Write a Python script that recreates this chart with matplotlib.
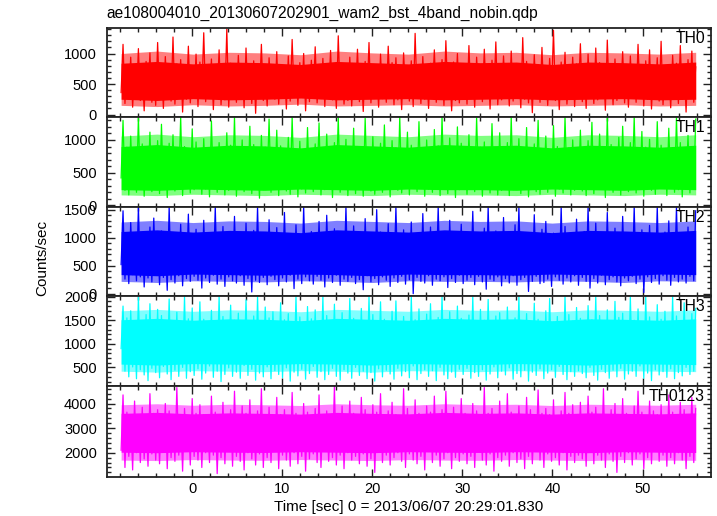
import numpy as np
import matplotlib
matplotlib.use("Agg")
import matplotlib.pyplot as plt
from matplotlib.ticker import MultipleLocator

plt.rcParams['font.family'] = ['Liberation Sans', 'DejaVu Sans']

title = "ae108004010_20130607202901_wam2_bst_4band_nobin.qdp"
xlabel = "Time [sec] 0 = 2013/06/07 20:29:01.830"
ylabel = "Counts/sec"
band_names = ["TH0", "TH1", "TH2", "TH3", "TH0123"]
band_colors = ["#ff0000", "#00ff00", "#0000ff", "#00ffff", "#ff00ff"]
time_start, time_end = -7.9, 55.9

# sampled light-curve values (counts/sec)
th0 = [
    360, 1150, 180, 820, 310, 940, 120, 760, 280, 1080, 230, 690, 60, 870, 340, 1010, 200, 740, 150, 1180,
    290, 800, 100, 950, 380, 710, 220, 1270, 170, 830, 320, 900, 40, 760, 250, 1120, 190, 680, 300, 990,
    130, 860, 360, 1340, 210, 720, 270, 910, 80, 800, 330, 1060, 160, 750, 240, 1400, 120, 840, 290, 700,
    200, 970, 350, 780, 110, 1090, 260, 730, 180, 880, 20, 820, 310, 1150, 230, 690, 140, 930, 370, 760,
    250, 1030, 170, 810, 300, 720, 90, 960, 220, 1230, 340, 770, 150, 850, 280, 1000, 60, 740, 210, 890,
    320, 1110, 190, 700, 260, 920, 130, 830, 360, 1050, 240, 760, 100, 1290, 300, 820, 170, 680, 230, 940,
    140, 790, 330, 1070, 210, 730, 50, 870, 280, 1180, 190, 810, 350, 740, 120, 990, 260, 700, 200, 1120,
    310, 850, 160, 930, 240, 770, 80, 1010, 370, 720, 220, 880, 130, 1330, 290, 790, 180, 950, 250, 710,
    100, 840, 340, 1060, 200, 750, 270, 900, 150, 1210, 320, 780, 60, 860, 230, 1000, 190, 730, 300, 820,
    170, 1130, 260, 690, 120, 940, 350, 800, 210, 1070, 280, 760, 90, 890, 330, 1190, 160, 720, 240, 960,
    300, 780, 140, 1040, 220, 830, 370, 710, 110, 1260, 250, 870, 190, 750, 30, 980, 320, 810, 200, 1100,
    270, 740, 150, 920, 340, 1380, 230, 790, 80, 860, 290, 1020, 170, 700, 260, 940, 130, 830, 350, 1160,
    210, 770, 100, 990, 300, 720, 180, 1090, 240, 850, 330, 760, 70, 1220, 280, 800, 160, 910, 230, 740,
    360, 1030, 190, 820, 120, 960, 270, 730, 200, 1150, 310, 790, 140, 880, 250, 1060, 90, 750, 330, 930,
    220, 1200, 160, 800, 290, 720, 110, 970, 350, 840, 180, 1130, 260, 760, 40, 900, 300, 1040, 200, 780,
]
th1 = [
    420, 1300, 230, 890, 160, 1060, 310, 820, 200, 1350, 270, 940, 140, 780, 330, 1120, 210, 870, 250, 990,
    180, 1240, 300, 810, 120, 950, 260, 1080, 220, 760, 340, 1350, 150, 900, 280, 830, 190, 1170, 240, 970,
    310, 790, 170, 1020, 250, 880, 130, 1290, 290, 840, 200, 960, 350, 770, 160, 1110, 230, 920, 270, 1350,
    140, 860, 320, 1000, 210, 800, 260, 1210, 180, 930, 300, 780, 110, 1070, 240, 890, 330, 1320, 200, 840,
    270, 1150, 150, 910, 290, 760, 220, 1040, 170, 1350, 310, 850, 130, 980, 250, 800, 190, 1190, 280, 870,
    210, 940, 340, 1260, 160, 820, 240, 1090, 300, 780, 120, 960, 260, 1350, 200, 870, 320, 1010, 150, 830,
    290, 1180, 180, 900, 250, 770, 140, 1330, 310, 860, 220, 1050, 170, 790, 330, 950, 200, 1230, 260, 810,
    130, 990, 280, 880, 230, 1350, 190, 760, 340, 1120, 160, 920, 270, 830, 210, 1280, 300, 870, 140, 1000,
    250, 800, 200, 1160, 320, 910, 150, 1350, 260, 780, 180, 1030, 290, 860, 120, 1200, 240, 950, 310, 820,
    170, 1080, 270, 790, 210, 1340, 330, 890, 140, 970, 250, 840, 190, 1250, 300, 770, 160, 1110, 230, 900,
    280, 960, 150, 1350, 240, 810, 320, 1020, 180, 870, 260, 1190, 130, 780, 290, 940, 210, 1300, 170, 850,
    310, 1060, 200, 830, 270, 1220, 140, 900, 250, 790, 190, 1350, 330, 880, 160, 1000, 230, 820, 280, 1150,
    220, 870, 150, 990, 300, 1270, 180, 810, 260, 1090, 340, 860, 120, 1350, 240, 930, 200, 780, 290, 1040,
    160, 1210, 270, 850, 210, 960, 320, 1350, 190, 800, 250, 1130, 140, 890, 300, 1010, 230, 840, 170, 1280,
    260, 920, 330, 790, 150, 1180, 280, 870, 200, 1350, 240, 960, 130, 830, 310, 1070, 190, 900, 270, 1320,
]
th2 = [
    520, 1480, 260, 1090, 180, 1270, 340, 960, 230, 1550, 300, 1030, 120, 900, 280, 1190, 210, 1350, 330, 980,
    160, 1120, 290, 920, 60, 1550, 250, 1060, 190, 880, 320, 1240, 140, 1000, 270, 1420, 220, 940, 310, 1150,
    240, 990, 100, 1310, 280, 870, 200, 1080, 330, 1550, 170, 950, 260, 1200, 130, 910, 300, 1040, 230, 1380,
    190, 1010, 320, 890, 150, 1260, 270, 970, 30, 1130, 240, 1550, 200, 930, 290, 1070, 160, 1320, 310, 900,
    250, 1180, 140, 960, 280, 1450, 210, 880, 330, 1050, 90, 1230, 260, 940, 180, 1550, 300, 1000, 230, 1110,
    170, 920, 310, 1290, 240, 1020, 120, 1400, 280, 870, 200, 1160, 330, 960, 150, 1080, 260, 1550, 220, 930,
    290, 1210, 180, 990, 250, 880, 70, 1340, 320, 1040, 210, 920, 270, 1500, 160, 1100, 300, 950, 240, 1250,
    130, 1030, 280, 1550, 200, 910, 310, 1140, 170, 980, 250, 1280, 0, 890, 290, 1060, 220, 1430, 190, 940,
    320, 1190, 150, 970, 260, 1550, 230, 890, 300, 1090, 110, 1310, 270, 930, 200, 1020, 330, 1240, 180, 960,
    240, 880, 290, 1470, 160, 1050, 310, 940, 210, 1170, 80, 1550, 260, 900, 230, 1120, 300, 990, 140, 1360,
    270, 1000, 190, 920, 320, 1230, 150, 1550, 250, 960, 290, 1070, 40, 890, 220, 1410, 310, 1010, 180, 1150,
    200, 1290, 260, 910, 130, 1080, 300, 970, 240, 1550, 170, 1200, 280, 880, 210, 1040, 320, 1330, 150, 950,
    290, 1110, 220, 1550, 100, 930, 270, 1260, 190, 990, 330, 1060, 160, 1450, 250, 900, 300, 1170, 210, 970,
    140, 1380, 280, 920, 230, 1050, 310, 1550, 180, 960, 260, 1140, 20, 890, 300, 1220, 200, 1010, 270, 1550,
    170, 930, 320, 1100, 240, 1300, 150, 980, 290, 1550, 210, 1060, 260, 910, 190, 1190, 310, 1020, 230, 1480,
]
th3 = [
    900, 1800, 420, 1550, 300, 1700, 510, 1380, 260, 2000, 450, 1490, 340, 1620, 220, 1850, 480, 1410, 390, 1730,
    280, 1600, 520, 1350, 360, 1950, 240, 1480, 440, 1670, 310, 1390, 500, 2000, 270, 1530, 410, 1760, 330, 1440,
    470, 1890, 250, 1520, 380, 1360, 530, 1710, 290, 1450, 420, 2000, 200, 1580, 350, 1400, 490, 1820, 310, 1500,
    400, 1650, 270, 1370, 540, 1930, 330, 1470, 460, 1590, 230, 2000, 380, 1420, 300, 1780, 510, 1550, 260, 1680,
    430, 1400, 350, 1870, 280, 1510, 490, 1640, 210, 1380, 400, 2000, 320, 1570, 460, 1460, 250, 1790, 370, 1530,
    520, 1720, 290, 1430, 410, 2000, 240, 1600, 350, 1390, 480, 1840, 310, 1500, 230, 1660, 450, 1410, 380, 1960,
    270, 1540, 500, 1370, 330, 1750, 420, 1480, 260, 2000, 390, 1620, 210, 1440, 470, 1890, 300, 1520, 440, 1380,
    360, 1690, 250, 1910, 480, 1460, 320, 1580, 410, 1360, 280, 2000, 530, 1510, 240, 1740, 370, 1430, 450, 1630,
    310, 1850, 430, 1400, 220, 1560, 500, 2000, 340, 1470, 260, 1680, 400, 1390, 290, 1800, 460, 1540, 350, 1450,
    480, 1610, 270, 2000, 390, 1420, 310, 1730, 450, 1500, 230, 1940, 360, 1380, 510, 1590, 280, 1660, 420, 1470,
    340, 1780, 490, 1410, 250, 1550, 370, 2000, 300, 1490, 440, 1640, 210, 1370, 400, 1860, 330, 1520, 470, 1430,
    260, 1700, 380, 1960, 450, 1460, 290, 1580, 520, 1390, 350, 2000, 240, 1620, 410, 1480, 310, 1770, 430, 1540,
    370, 1420, 280, 1810, 500, 1510, 330, 2000, 230, 1600, 460, 1380, 390, 1720, 270, 1450, 440, 1900, 300, 1560,
    480, 1650, 250, 1430, 360, 1990, 420, 1500, 310, 1740, 530, 1400, 270, 2000, 380, 1570, 220, 1460, 450, 1830,
    340, 1520, 410, 1690, 290, 1410, 470, 2000, 260, 1590, 390, 1470, 320, 1870, 500, 1430, 350, 1640, 420, 1750,
]
th0123 = [
    2100, 4350, 1400, 3650, 1850, 3400, 1300, 4100, 2000, 3550, 1600, 3850, 1750, 3300, 1450, 4400, 1950, 3600, 1700, 3750,
    1550, 3450, 2050, 4000, 1350, 3700, 1800, 3350, 1650, 4650, 1900, 3500, 1250, 3800, 2100, 3400, 1500, 4200, 1850, 3600,
    1700, 3950, 1400, 3550, 2000, 3300, 1600, 4300, 1900, 3650, 1150, 3450, 1800, 4050, 1550, 3500, 2050, 3750, 1450, 4500,
    1850, 3400, 1650, 3900, 1300, 3600, 2000, 4150, 1750, 3350, 1500, 3700, 1950, 4600, 1400, 3500, 1800, 3850, 1600, 3450,
    2100, 4250, 1350, 3550, 1900, 3750, 1700, 3400, 1450, 4450, 2000, 3600, 1550, 3300, 1850, 4000, 1250, 3650, 1750, 3500,
    1950, 3800, 1600, 4350, 1400, 3450, 2050, 3700, 1650, 3350, 1800, 4700, 1500, 3550, 1900, 3900, 1350, 3500, 2000, 4100,
    1700, 3600, 1850, 3400, 1550, 4250, 1950, 3750, 1450, 3500, 1750, 3950, 1200, 3650, 2050, 4400, 1600, 3450, 1900, 3700,
    1500, 4050, 1800, 3550, 2000, 3350, 1650, 4600, 1400, 3800, 1950, 3500, 1700, 4150, 1550, 3600, 1850, 3400, 1300, 3900,
    2050, 3650, 1600, 4300, 1900, 3450, 1450, 3750, 1750, 4500, 2000, 3550, 1350, 3850, 1800, 3400, 1650, 4200, 1950, 3600,
    1550, 3500, 1850, 4000, 1400, 3700, 2100, 3350, 1700, 4650, 1500, 3600, 1950, 3800, 1250, 3450, 1800, 4100, 1650, 3550,
    1900, 4400, 1450, 3650, 2000, 3400, 1600, 3900, 1750, 3500, 1350, 4250, 1850, 3750, 1550, 3450, 2050, 4550, 1700, 3600,
    1400, 3800, 1950, 3550, 1650, 4150, 1800, 3350, 1500, 3700, 2000, 4450, 1300, 3600, 1850, 3950, 1600, 3500, 1900, 4050,
    1750, 3450, 1450, 4300, 2050, 3650, 1550, 3850, 1900, 3400, 1700, 4600, 1400, 3550, 1950, 3750, 1650, 4000, 1200, 3500,
    1850, 4200, 1600, 3600, 2000, 3350, 1500, 3900, 1750, 4500, 1950, 3650, 1350, 3450, 1800, 4100, 1550, 3700, 2050, 3550,
    1650, 3950, 1900, 3500, 1450, 4350, 1800, 3650, 1550, 3400, 2000, 4050, 1700, 3750, 1350, 3550, 1850, 4250, 1600, 3800,
]
series = [th0, th1, th2, th3, th0123]

# dense (solid-looking) core of each light curve, read every ~4 s
core_lo = [
    [250, 230, 260, 240, 250, 270, 240, 250, 260, 240, 250, 260, 240, 250, 260, 240, 250],
    [240, 230, 250, 240, 230, 250, 240, 230, 250, 240, 240, 230, 250, 240, 230, 250, 240],
    [340, 320, 350, 340, 330, 350, 340, 320, 350, 340, 340, 330, 350, 340, 320, 350, 340],
    [570, 550, 580, 570, 560, 580, 570, 550, 580, 570, 560, 580, 570, 550, 580, 570, 560],
    [2020, 2000, 2040, 2020, 2010, 2040, 2020, 2000, 2040, 2020, 2010, 2040, 2020, 2000, 2040, 2020, 2010],
]
core_hi = [
    [840, 870, 830, 860, 850, 820, 870, 850, 830, 870, 850, 860, 820, 860, 850, 830, 860],
    [900, 930, 890, 920, 910, 880, 930, 910, 890, 930, 910, 920, 880, 920, 910, 890, 920],
    [1110, 1140, 1100, 1130, 1120, 1090, 1140, 1120, 1100, 1140, 1120, 1130, 1090, 1130, 1120, 1100, 1130],
    [1510, 1540, 1500, 1530, 1520, 1490, 1540, 1520, 1500, 1540, 1520, 1530, 1490, 1530, 1520, 1500, 1530],
    [3600, 3640, 3580, 3620, 3600, 3570, 3640, 3600, 3580, 3640, 3600, 3620, 3570, 3620, 3600, 3580, 3620],
]
# looser fringe of frequent excursions around the core
fringe_lo = [
    [150, 130, 160, 140, 150, 170, 140, 150, 160, 140, 150, 160, 140, 150, 160, 140, 150],
    [160, 150, 170, 160, 150, 170, 160, 150, 170, 160, 160, 150, 170, 160, 150, 170, 160],
    [220, 200, 230, 220, 210, 230, 220, 200, 230, 220, 220, 210, 230, 220, 200, 230, 220],
    [420, 400, 430, 420, 410, 430, 420, 400, 430, 420, 410, 430, 420, 400, 430, 420, 410],
    [1700, 1680, 1720, 1700, 1690, 1720, 1700, 1680, 1720, 1700, 1690, 1720, 1700, 1680, 1720, 1700, 1690],
]
fringe_hi = [
    [1000, 1040, 990, 1020, 1010, 980, 1040, 1010, 990, 1040, 1010, 1020, 980, 1020, 1010, 990, 1020],
    [1060, 1090, 1050, 1080, 1070, 1040, 1090, 1070, 1050, 1090, 1070, 1080, 1040, 1080, 1070, 1050, 1080],
    [1280, 1310, 1270, 1300, 1290, 1260, 1310, 1290, 1270, 1310, 1290, 1300, 1260, 1300, 1290, 1270, 1300],
    [1700, 1730, 1690, 1720, 1710, 1680, 1730, 1710, 1690, 1730, 1710, 1720, 1680, 1720, 1710, 1690, 1720],
    [3950, 3990, 3930, 3970, 3950, 3920, 3990, 3950, 3930, 3990, 3950, 3970, 3920, 3970, 3950, 3930, 3970],
]

y_limits = [(-36, 1423), (-20, 1356), (-36, 1553), (106, 2020), (1025, 4712)]
y_major = [500, 500, 500, 500, 1000]
y_minor = [100, 100, 100, 100, 200]
x_limits = (-9.5, 57.6)

W, H = 717, 516
fig = plt.figure(figsize=(W / 100, H / 100), dpi=100)
left_px, right_px = 106.7, 711.0
edges_px = [27.7, 116.7, 206.7, 295.7, 386.0, 476.7]
frame_col = "#222222"

axes = []
for i in range(5):
    top, bot = edges_px[i], edges_px[i + 1]
    ax = fig.add_axes([left_px / W, 1 - bot / H, (right_px - left_px) / W, (bot - top) / H])
    y = np.asarray(series[i], dtype=float)
    t = np.linspace(time_start, time_end, len(y))
    tc = np.linspace(time_start, time_end, len(core_lo[i]))
    ax.fill_between(tc, fringe_lo[i], fringe_hi[i], color=band_colors[i], alpha=0.5, lw=0)
    ax.fill_between(tc, core_lo[i], core_hi[i], color=band_colors[i], lw=0)
    ax.plot(t, y, color=band_colors[i], lw=0.9)
    ax.set_xlim(*x_limits)
    ax.set_ylim(*y_limits[i])
    ax.xaxis.set_major_locator(MultipleLocator(10))
    ax.xaxis.set_minor_locator(MultipleLocator(2))
    ax.yaxis.set_major_locator(MultipleLocator(y_major[i]))
    ax.yaxis.set_minor_locator(MultipleLocator(y_minor[i]))
    ax.tick_params(which='both', direction='in', top=True, right=True, color=frame_col,
                   width=1.0, labelsize=10.5, pad=7)
    ax.tick_params(which='major', length=5.5)
    ax.tick_params(which='minor', length=3)
    for s in ax.spines.values():
        s.set_color(frame_col)
        s.set_linewidth(1.3)
        s.set_zorder(5)
    if i < 4:
        ax.tick_params(labelbottom=False)
    ax.text(0.99, 0.965, band_names[i], transform=ax.transAxes, ha='right', va='top',
            fontsize=11.3, zorder=6)
    axes.append(ax)

axes[-1].tick_params(axis='x', pad=4)
fig.text(left_px / W, 1 - 13 / H, title, ha='left', va='center', fontsize=11.2)
fig.text((left_px + right_px) / 2 / W, 1 - 507 / H, xlabel, ha='center', va='center', fontsize=11)
fig.text(42 / W, 1 - 258 / H, ylabel, ha='center', va='center', rotation=90, fontsize=11)

fig.savefig("out.png", dpi=100)
